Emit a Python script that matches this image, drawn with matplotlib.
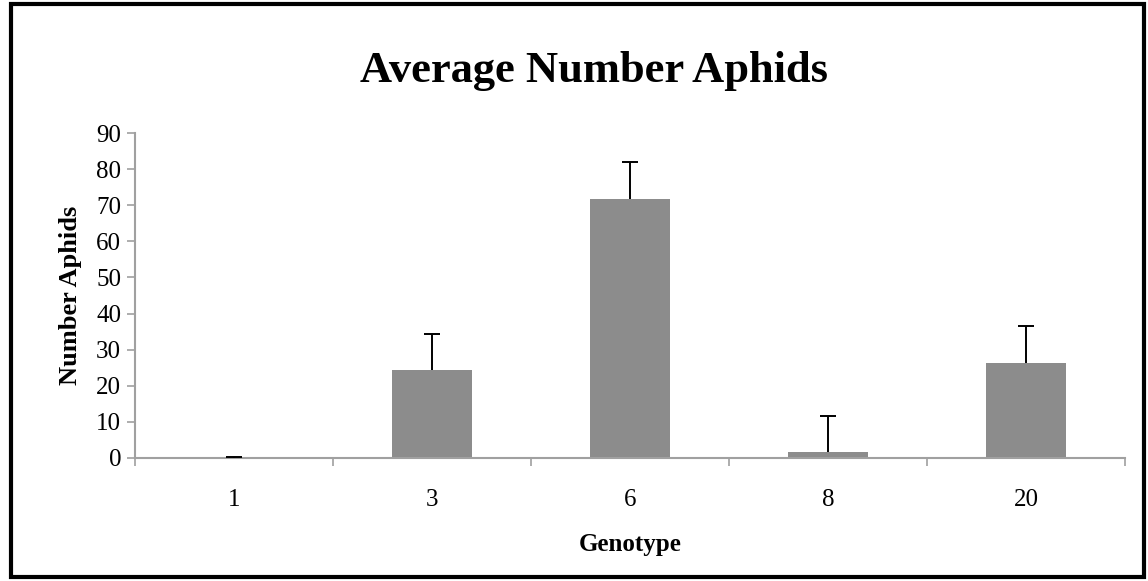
import matplotlib
matplotlib.use('Agg')
from matplotlib import pyplot as plt
from matplotlib.patches import Rectangle

genotypes = ['1', '3', '6', '8', '20']
mean_aphids = [0.0, 24.3, 71.8, 1.6, 26.4]
err_aphids = [0.4, 10.0, 10.3, 10.1, 10.1]

plt.rcParams['font.family'] = ['Liberation Serif', 'DejaVu Serif']

fig = plt.figure(figsize=(11.48, 5.81), dpi=100)
ax = fig.add_axes([135/1148, 1-458/581, 990/1148, (458-133)/581])

x = list(range(len(genotypes)))
tops = [m + e for m, e in zip(mean_aphids, err_aphids)]
ax.bar(x, mean_aphids, width=0.4, color='#8c8c8c', zorder=2)
# only the upper half of the error bar, as in the original
ax.vlines(x, mean_aphids, tops, color='black', linewidth=1.4, zorder=3)
ax.hlines(tops, [i - 0.04 for i in x], [i + 0.04 for i in x], color='black', linewidth=1.4, zorder=3)

ax.set_xlim(-0.5, len(genotypes) - 0.5)
ax.set_ylim(0, 90)
ax.set_yticks(range(0, 91, 10))
ax.set_xticks(x)
ax.set_xticklabels(genotypes)
ax.set_xticks([i + 0.5 for i in range(-1, len(genotypes))], minor=True)
ax.tick_params(axis='x', which='major', length=0, pad=22, labelsize=18)
ax.tick_params(axis='x', which='minor', length=6, color='#a0a0a0', width=1.2, direction='out')
ax.tick_params(axis='y', length=6, color='#a0a0a0', width=1.2, labelsize=18, pad=4)

for side in ['top', 'right']:
    ax.spines[side].set_visible(False)
for side in ['left', 'bottom']:
    ax.spines[side].set_color('#a0a0a0')
    ax.spines[side].set_linewidth(1.5)

ax.set_xlabel('Genotype', fontsize=18, fontweight='bold', labelpad=16)
ax.set_ylabel('Number Aphids', fontsize=19, fontweight='bold', labelpad=10)
fig.text(0.517, 0.878, 'Average Number Aphids', ha='center', va='center',
         fontsize=32, fontweight='bold')

fig.patches.append(Rectangle((11/1148, 4/581), 1133/1148, 573/581, transform=fig.transFigure,
                             fill=False, edgecolor='black', linewidth=3))

fig.savefig('out.png', dpi=100)
